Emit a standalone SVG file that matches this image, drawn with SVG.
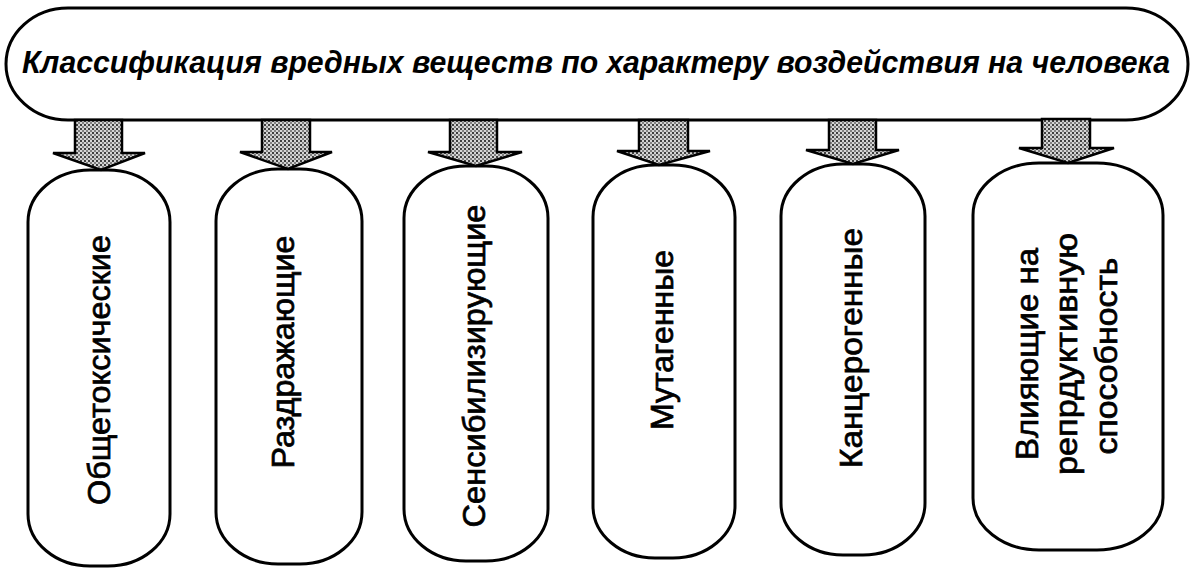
<svg xmlns="http://www.w3.org/2000/svg" width="1199" height="577" viewBox="0 0 1199 577">
  <style>
    .box { fill: #ffffff; stroke: #000000; stroke-width: 3; }
    .arrow { fill: url(#stipple); stroke: #000000; stroke-width: 2.5; stroke-linejoin: miter; }
    .title { font-family: "Liberation Sans", Arial, sans-serif; font-weight: bold; font-style: italic; font-size: 31px; fill: #000000; }
    .label { font-family: "Liberation Sans", Arial, sans-serif; font-size: 31px; fill: #000000; stroke: #000000; stroke-width: 0.7; }
  </style>
  <defs>
    <pattern id="stipple" width="4" height="4" patternUnits="userSpaceOnUse">
      <rect width="4" height="4" fill="#d4d4d4"/>
      <rect x="0" y="0" width="2" height="2" fill="#404040"/>
      <rect x="2" y="2" width="2" height="2" fill="#808080"/>
    </pattern>
  </defs>
  <rect width="1199" height="577" fill="#ffffff"/>

  <g id="title-node">
    <rect class="box" x="6" y="8" width="1182" height="112" rx="62" ry="56"/>
    <text class="title" x="596" y="73" text-anchor="middle" textLength="1148" lengthAdjust="spacingAndGlyphs">Классификация вредных веществ по характеру воздействия на человека</text>
  </g>

  <g id="node-general-toxic">
    <rect class="box" x="28" y="170" width="142" height="396" rx="62" ry="52"/>
    <text class="label" transform="translate(110,370) rotate(-90)" text-anchor="middle" textLength="270" lengthAdjust="spacingAndGlyphs">Общетоксические</text>
  </g>

  <g id="node-irritant">
    <rect class="box" x="216" y="169" width="146" height="395" rx="62" ry="52"/>
    <text class="label" transform="translate(294,352) rotate(-90)" text-anchor="middle" textLength="233" lengthAdjust="spacingAndGlyphs">Раздражающие</text>
  </g>

  <g id="node-sensitizing">
    <rect class="box" x="404" y="166" width="144" height="395" rx="62" ry="52"/>
    <text class="label" transform="translate(485,366) rotate(-90)" text-anchor="middle" textLength="323" lengthAdjust="spacingAndGlyphs">Сенсибилизирующие</text>
  </g>

  <g id="node-mutagenic">
    <rect class="box" x="593" y="165" width="142" height="393" rx="62" ry="52"/>
    <text class="label" transform="translate(673,340) rotate(-90)" text-anchor="middle" textLength="180" lengthAdjust="spacingAndGlyphs">Мутагенные</text>
  </g>

  <g id="node-carcinogenic">
    <rect class="box" x="781" y="164" width="144" height="391" rx="62" ry="52"/>
    <text class="label" transform="translate(862,348) rotate(-90)" text-anchor="middle" textLength="240" lengthAdjust="spacingAndGlyphs">Канцерогенные</text>
  </g>

  <g id="node-reproductive">
    <rect class="box" x="973" y="163" width="190" height="387" rx="66" ry="52"/>
    <text class="label" transform="translate(1038,354) rotate(-90)" text-anchor="middle" textLength="212" lengthAdjust="spacingAndGlyphs">Влияющие на</text>
    <text class="label" transform="translate(1077,354) rotate(-90)" text-anchor="middle" textLength="242" lengthAdjust="spacingAndGlyphs">репрдуктивную</text>
    <text class="label" transform="translate(1117,356) rotate(-90)" text-anchor="middle" textLength="197" lengthAdjust="spacingAndGlyphs">способность</text>
  </g>

  <g id="connectors">
    <path class="arrow" d="M75,120 L122,120 L122,153 L145,153 L101,170 L53,153 L75,153 Z"/>
    <path class="arrow" d="M262,120 L310,120 L310,152 L332,152 L288,169 L240,152 L262,152 Z"/>
    <path class="arrow" d="M450,120 L497,120 L497,152 L522,152 L476,166 L428,152 L450,152 Z"/>
    <path class="arrow" d="M639,120 L688,120 L688,151 L710,151 L659,165 L617,151 L639,151 Z"/>
    <path class="arrow" d="M829,120 L876,120 L876,150 L899,150 L853,164 L806,150 L829,150 Z"/>
    <path class="arrow" d="M1042,119 L1090,119 L1090,148 L1114,148 L1068,163 L1019,148 L1042,148 Z"/>
  </g>
</svg>
